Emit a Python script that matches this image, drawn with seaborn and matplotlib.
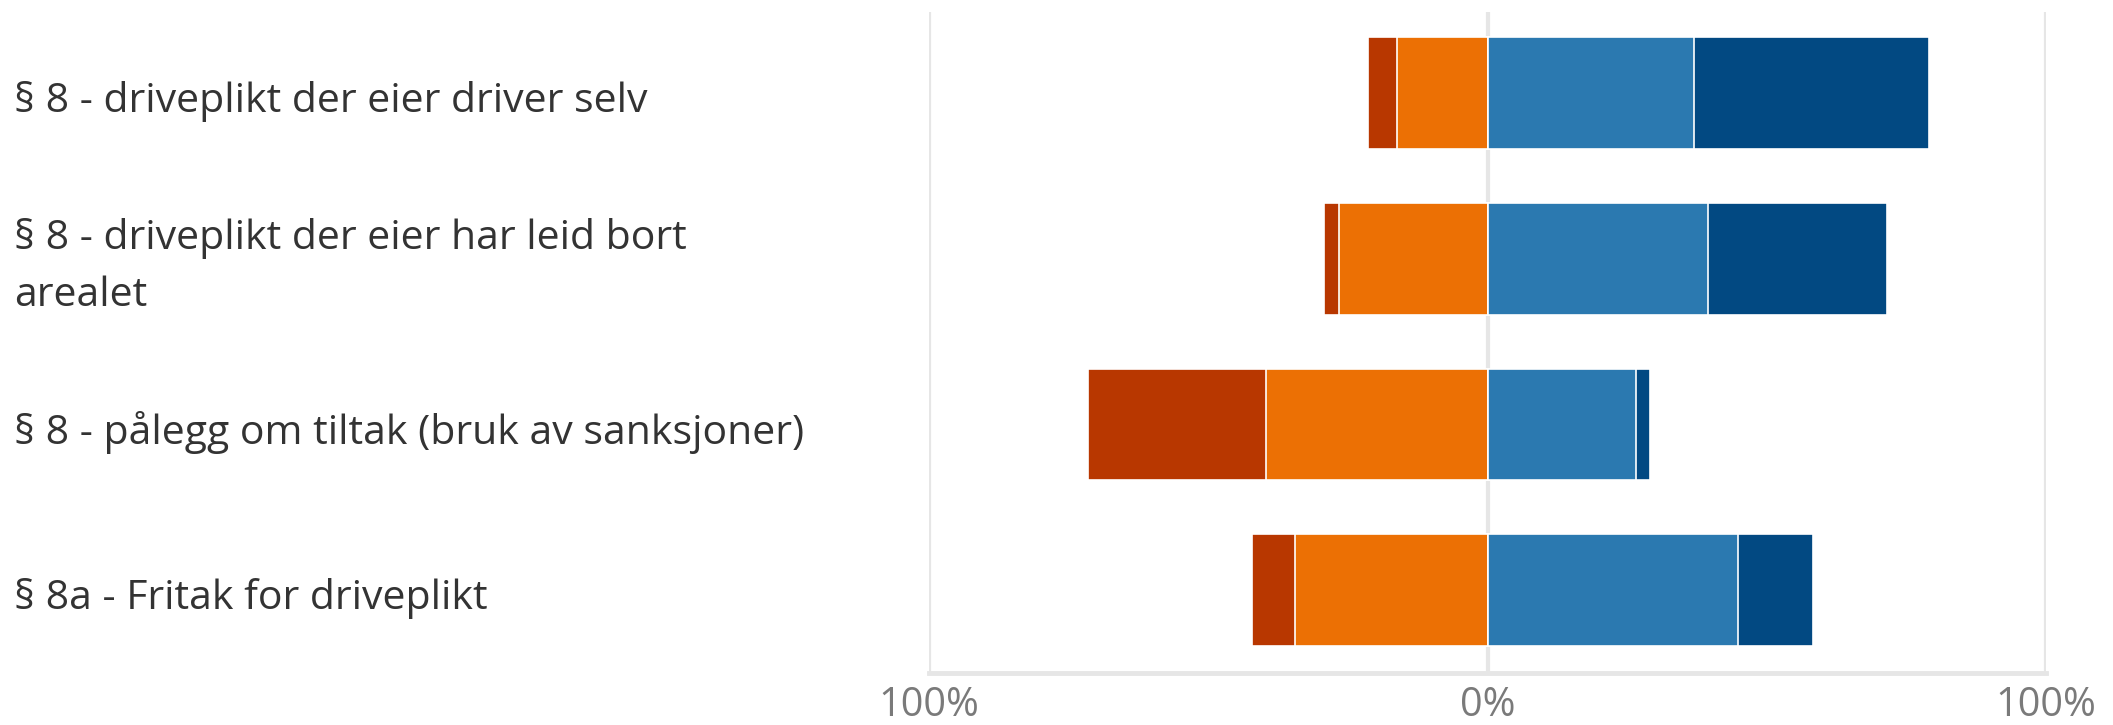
import matplotlib
matplotlib.use("Agg")
import matplotlib.pyplot as plt
import matplotlib.transforms as mtransforms
import seaborn as sns
import pandas as pd
import numpy as np

categories = [
    "§ 8 - driveplikt der eier driver selv",
    "§ 8 - driveplikt der eier har leid bort\narealet",
    "§ 8 - pålegg om tiltak (bruk av sanksjoner)",
    "§ 8a - Fritak for driveplikt",
]
strongly_disagree = [5.2, 2.7, 31.9, 7.8]
disagree = [16.2, 26.5, 39.7, 34.4]
agree = [36.9, 39.5, 26.5, 44.8]
strongly_agree = [42.1, 32.0, 2.6, 13.4]
tick_values = [-100, 0, 100]
tick_labels = ["100%", "0%", "100%"]

col_sd = "#B83700"
col_d = "#EC7004"
col_a = "#2B79B0"
col_sa = "#024982"

df = pd.DataFrame({
    "cat": categories,
    "sd": strongly_disagree,
    "d": disagree,
    "a": agree,
    "sa": strongly_agree,
})
df["neg_total"] = -(df["sd"] + df["d"])
df["neg_inner"] = -df["d"]
df["pos_total"] = df["a"] + df["sa"]
df["pos_inner"] = df["a"]

sns.set_theme(style="white")
plt.rcParams["font.family"] = ["Open Sans", "DejaVu Sans"]

fig = plt.figure(figsize=(21.13, 7.25), dpi=100)
ax = fig.add_axes([929 / 2113, 1 - 673 / 725, (2046 - 929) / 2113, (673 - 12) / 725])

bw = 0.675
ekw = dict(edgecolor="white", linewidth=1.2)
sns.barplot(data=df, y="cat", x="neg_total", color=col_sd, orient="h", width=bw,
            saturation=1, ax=ax, zorder=3, **ekw)
sns.barplot(data=df, y="cat", x="neg_inner", color=col_d, orient="h", width=bw,
            saturation=1, ax=ax, zorder=3, **ekw)
sns.barplot(data=df, y="cat", x="pos_total", color=col_sa, orient="h", width=bw,
            saturation=1, ax=ax, zorder=3, **ekw)
sns.barplot(data=df, y="cat", x="pos_inner", color=col_a, orient="h", width=bw,
            saturation=1, ax=ax, zorder=3, **ekw)

ax.set_xlim(-100, 100)
ax.set_ylim(3.5, -0.49)
for v in tick_values:
    ax.axvline(v, color="#e6e6e6", linewidth=3, zorder=1)

for s in ["top", "right", "left"]:
    ax.spines[s].set_visible(False)
ax.spines["bottom"].set_color("#e6e6e6")
ax.spines["bottom"].set_linewidth(3.5)

ax.set_xticks(tick_values)
ax.set_xticklabels(tick_labels, fontsize=28.5, color="#7a7a7a")
ax.tick_params(axis="x", length=0, pad=9)
ax.set_yticks([])
ax.set_xlabel("")
ax.set_ylabel("")

trans = mtransforms.blended_transform_factory(fig.transFigure, ax.transData)
for i, c in enumerate(categories):
    ax.text(14 / 2113, i + 0.05, c, transform=trans, ha="left", va="center",
            fontsize=29.5, color="#333333", linespacing=1.55)

fig.savefig("out.png", dpi=100)
